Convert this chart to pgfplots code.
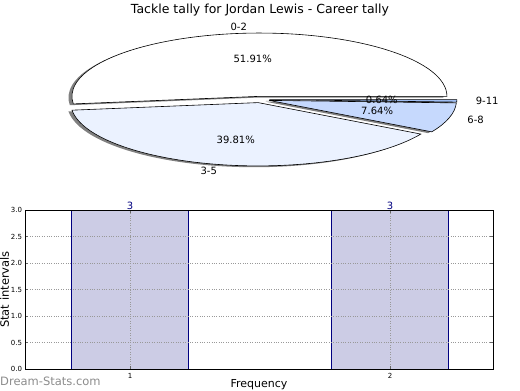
\documentclass[border=0pt]{standalone}
\usepackage{pgfplots}
\pgfplotsset{compat=1.18}
\usepackage{fontspec}
\setmainfont{DejaVu Sans}
\definecolor{pieB}{HTML}{EBF2FF}
\definecolor{pieC}{HTML}{C6D9FD}
\definecolor{pieD}{HTML}{9FBDF2}
\definecolor{barfill}{HTML}{CCCCE5}
\definecolor{navy}{HTML}{000080}
\newcommand\fsz[1]{\fontsize{#1bp}{#1bp}\selectfont}
\def\piedata{51.91/0-2/white,39.81/3-5/pieB,7.64/6-8/pieC,0.64/9-11/pieD}
\def\rx{187.5}\def\ry{63.3}\def\cx{260}\def\cy{290.5}
\begin{document}
\begin{tikzpicture}
% ---------- pie (full frame, 1 unit = 1bp) ----------
\begin{axis}[at={(0bp,0bp)},anchor=south west,scale only axis,
  width=520bp,height=390bp,xmin=0,xmax=520,ymin=0,ymax=390,
  hide axis,clip=false]
\path (axis cs:0,0) rectangle (axis cs:520,390);
\pgfplotsextra{%
  % shadows
  \gdef\cum{0}%
  \foreach \p/\lab/\col in \piedata {%
    \pgfmathsetmacro\s{\cum*3.6}%
    \pgfmathsetmacro\e{(\cum+\p)*3.6}%
    \pgfmathsetmacro\m{(\s+\e)/2}%
    \pgfmathsetmacro\vx{\cx+0.05*\rx*cos(\m)-3.5}%
    \pgfmathsetmacro\vy{\cy+0.05*\ry*sin(\m)-1.3}%
    \fill[black!50] (axis cs:\vx,\vy) -- ++(\s:187.5bp and 63.3bp)
      arc[start angle=\s,end angle=\e,x radius=187.5bp,y radius=63.3bp] -- cycle;
    \pgfmathsetmacro\n{\cum+\p}\xdef\cum{\n}%
  }%
  % wedges
  \gdef\cum{0}%
  \foreach \p/\lab/\col in \piedata {%
    \pgfmathsetmacro\s{\cum*3.6}%
    \pgfmathsetmacro\e{(\cum+\p)*3.6}%
    \pgfmathsetmacro\m{(\s+\e)/2}%
    \pgfmathsetmacro\vx{\cx+0.05*\rx*cos(\m)}%
    \pgfmathsetmacro\vy{\cy+0.05*\ry*sin(\m)}%
    \filldraw[fill=\col,draw=black,line width=0.6bp,line join=miter] (axis cs:\vx,\vy) -- ++(\s:187.5bp and 63.3bp)
      arc[start angle=\s,end angle=\e,x radius=187.5bp,y radius=63.3bp] -- cycle;
    \pgfmathsetmacro\n{\cum+\p}\xdef\cum{\n}%
  }%
  % texts
  \gdef\cum{0}%
  \foreach \p/\lab/\col in \piedata {%
    \pgfmathsetmacro\s{\cum*3.6}%
    \pgfmathsetmacro\e{(\cum+\p)*3.6}%
    \pgfmathsetmacro\m{(\s+\e)/2}%
    \pgfmathsetmacro\c{cos(\m)}%
    \pgfmathsetmacro\vx{\cx+0.05*\rx*cos(\m)}%
    \pgfmathsetmacro\vy{\cy+0.05*\ry*sin(\m)}%
    \pgfmathsetmacro\px{\vx+0.6*\rx*cos(\m)}%
    \pgfmathsetmacro\py{\vy+0.6*\ry*sin(\m)}%
    \pgfmathsetmacro\lx{\vx+1.1*\rx*cos(\m)}%
    \pgfmathsetmacro\ly{\vy+1.1*\ry*sin(\m)}%
    \ifdim\c pt>0pt \def\anc{west}\else\def\anc{east}\fi
    \node[font=\fsz{10},inner sep=0pt] at (axis cs:\px,\py) {\p\%};
    \node[font=\fsz{10},inner sep=0pt,anchor=\anc] at (axis cs:\lx,\ly) {\lab};
    \pgfmathsetmacro\n{\cum+\p}\xdef\cum{\n}%
  }%
}
\node[font=\fsz{12.5}] at (axis cs:260,380) {Tackle tally for Jordan Lewis - Career tally};
\node[font=\fsz{11.5},text=black!45,anchor=west,inner sep=0pt] at (axis cs:0,9) {Dream-Stats.com};
\end{axis}
% ---------- bars ----------
\begin{axis}[at={(25bp,21bp)},anchor=south west,scale only axis,
  width=468bp,height=159bp,
  xmin=0.596,xmax=2.396,ymin=0,ymax=3,
  xtick={1,2},ytick={0,0.5,1,1.5,2,2.5,3},
  /pgf/number format/assume math mode=true,
  tick label style={font=\fsz{7}},
  yticklabel style={xshift=0.5bp,/pgf/number format/.cd,fixed,fixed zerofill,precision=1},
  xticklabel style={yshift=-1bp},
  grid=major,grid style={dotted,black!40,line width=0.5bp},
  axis on top,axis line style={line width=0.8bp},
  major tick length=3bp,tick style={black!60,line width=0.5bp},
  xlabel={Frequency},ylabel={Stat intervals},
  xlabel style={font=\fsz{11},at={(axis description cs:0.5,-0.1164)},anchor=base,inner sep=0pt},
  ylabel style={font=\fsz{11.5},at={(axis description cs:-0.0342,0.5)},anchor=base,inner sep=0pt},
  clip=false]
\addplot[ybar,bar width=0.45,fill=barfill,draw=navy,line width=0.7bp,
  nodes near coords,
  nodes near coords style={text=navy,font=\fsz{10},anchor=south,inner sep=0.5bp}]
  coordinates {(1,3) (2,3)};
\end{axis}
\end{tikzpicture}
\end{document}
